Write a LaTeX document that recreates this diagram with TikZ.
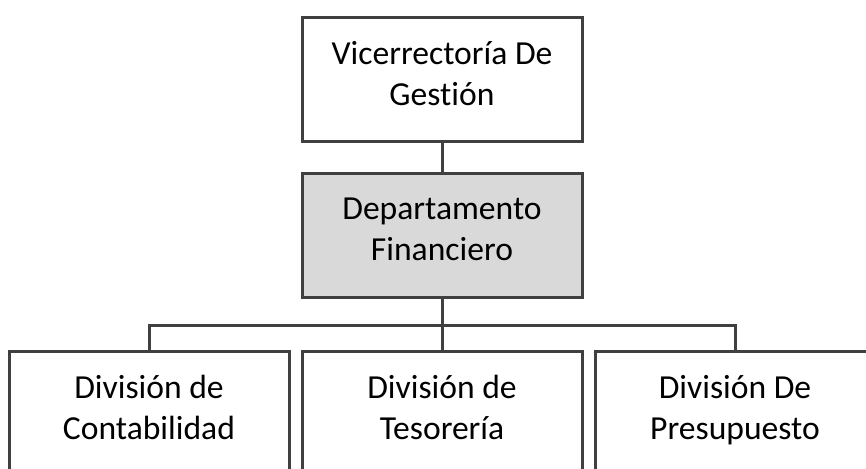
\documentclass[tikz,border=0pt]{standalone}
\usepackage{fontspec}
\setmainfont{Carlito}[Ligatures={NoCommon}]
\usetikzlibrary{positioning}

\definecolor{boxline}{RGB}{64,64,64}
\definecolor{boxfill}{RGB}{217,217,217}

\tikzset{
  unit/.style={draw=boxline, line width=1.5pt, fill=white, align=center,
    minimum width=140pt, minimum height=62pt, inner sep=0pt,
    font=\fontsize{16.8}{20.5}\selectfont,
    execute at begin node=\strut,
    execute at end node=\rule[-3.85pt]{0pt}{0pt}},
  link/.style={draw=boxline, line width=1.5pt}
}

\begin{document}
\begin{tikzpicture}[x=0.5pt,y=-0.5pt]
  \clip (0,0) rectangle (866,468);
  % upper levels
  \node[unit] (vice) at (442,79.5) {Vicerrectoría De\\Gestión};
  \node[unit, fill=boxfill] (dept) at (442,235.5) {Departamento\\Financiero};
  % divisions, left to right
  \foreach [count=\i] \lab/\xx in {División de\\Contabilidad/149,
                                   División de\\Tesorería/442,
                                   División De\\Presupuesto/735} {
    \node[unit] (div\i) at (\xx,413.5) {\lab};
  }
  \coordinate (bus) at (442,325);
  \path[link] (vice) -- (dept);
  \path[link] (dept) -- (div2);
  \path[link] (div1.north) |- (bus) -| (div3.north);
\end{tikzpicture}
\end{document}
